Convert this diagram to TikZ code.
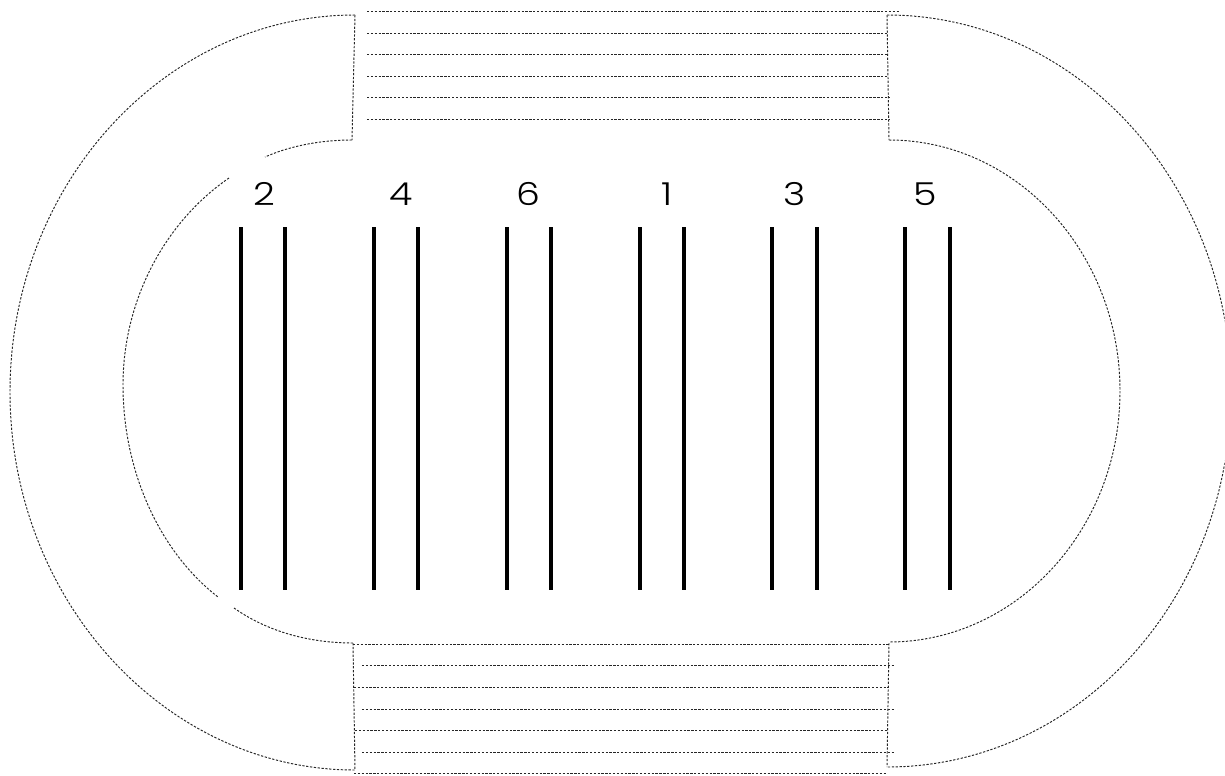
\documentclass[tikz,border=0pt]{standalone}
\usepackage{fontspec}
\setmainfont{Poppins}[UprightFont=* Light]
\tikzset{
  trackline/.style={line width=0.55pt, dash pattern=on 1.3pt off 0.9pt, black!85},
  lanebar/.style={line width=2.3pt, line cap=butt},
  lanelabel/.style={font=\fontsize{18}{18}\selectfont, xscale=1.2, inner sep=0pt}
}

\begin{document}
\begin{tikzpicture}[x=0.02cm, y=-0.02cm]
    \useasboundingbox (0,0) rectangle (1225,775);

    % Outer curve, left and right
    \draw[trackline] (355,15) .. controls (165,15) and (10,184) .. (10,392) .. controls (10,600) and (165,770) .. (355,770);
    \begin{scope}
        \clip (0,0) rectangle (1224.5,775);
        \draw[trackline] (887,15) .. controls (1077,15) and (1231,184) .. (1231,391) .. controls (1231,600) and (1077,767) .. (887,767);
    \end{scope}

    % Inner curve, left and right
    \draw[trackline] (352,140) .. controls (320,140) and (290,146) .. (265,157);
    \draw[trackline] (229,178) .. controls (165,222) and (123,300) .. (123,385) .. controls (123,472) and (160,552) .. (218,597);
    \draw[trackline] (234,608) .. controls (268,632) and (310,643) .. (353,643);
    \draw[trackline] (889,140) .. controls (1016,140) and (1120,252) .. (1120,391) .. controls (1120,530) and (1016,642) .. (889,642);

    % Ends of the top and bottom strips
    \draw[trackline] (355,15) -- (352,140);
    \draw[trackline] (887,15) -- (889,140);
    \draw[trackline] (353,643) -- (355,770);
    \draw[trackline] (889,643) -- (887,767);

    % Top strip
    \draw[trackline] (367,11) -- (900,11);
    \draw[trackline] (367,33) -- (888,33);
    \draw[trackline] (367,54) -- (888,54);
    \draw[trackline] (367,76) -- (888,76);
    \draw[trackline] (367,97) -- (889,97);
    \draw[trackline] (367,119) -- (889,119);

    % Bottom strip
    \draw[trackline] (353,644) -- (889,644);
    \draw[trackline] (362,665) -- (895,665);
    \draw[trackline] (354,687) -- (888,687);
    \draw[trackline] (362,709) -- (895,709);
    \draw[trackline] (355,730) -- (888,730);
    \draw[trackline] (362,752) -- (895,752);
    \draw[trackline] (354,773) -- (887,773);

    % Numbers
    \node[lanelabel] (n2) at (264,194) {2};
    \node[lanelabel] (n4) at (401,194) {4};
    \node[lanelabel] (n6) at (528,194) {6};
    \node[lanelabel] (n1) at (667,194) {1};
    \node[lanelabel] (n3) at (795,194) {3};
    \node[lanelabel] (n5) at (925,194) {5};

    % Bars
    \draw[lanebar] (241,227) -- (241,590);
    \draw[lanebar] (285,227) -- (285,590);
    \draw[lanebar] (374,227) -- (374,590);
    \draw[lanebar] (418,227) -- (418,590);
    \draw[lanebar] (507,227) -- (507,590);
    \draw[lanebar] (551,227) -- (551,590);
    \draw[lanebar] (640,227) -- (640,590);
    \draw[lanebar] (684,227) -- (684,590);
    \draw[lanebar] (772,227) -- (772,590);
    \draw[lanebar] (817,227) -- (817,590);
    \draw[lanebar] (905,227) -- (905,590);
    \draw[lanebar] (950,227) -- (950,590);
\end{tikzpicture}
\end{document}
